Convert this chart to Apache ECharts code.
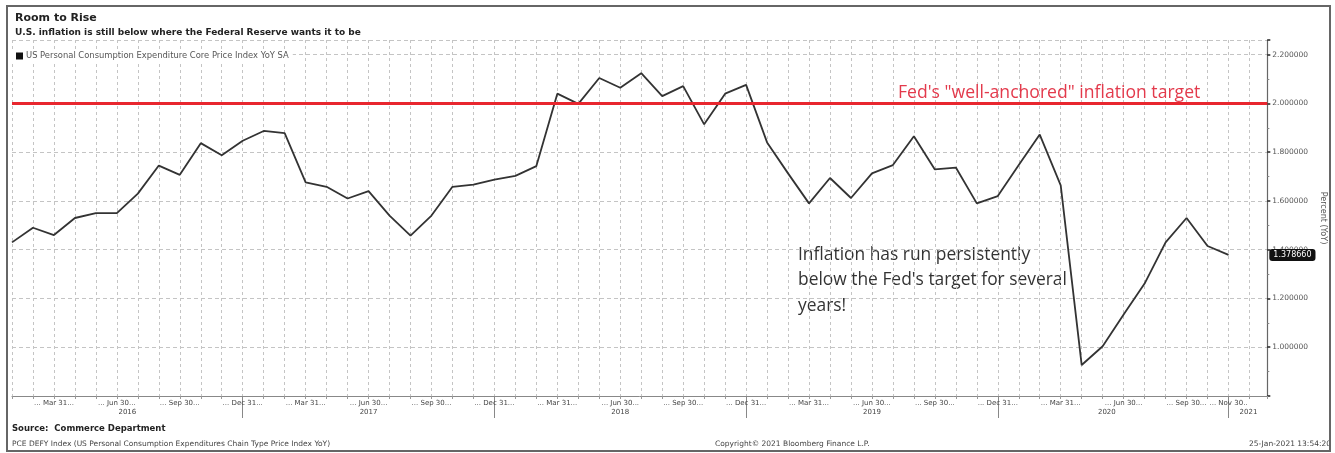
<!DOCTYPE html>
<html><head><meta charset="utf-8">
<script src="https://cdn.jsdelivr.net/npm/echarts@6/dist/echarts.min.js"></script>
<style>html,body{margin:0;padding:0;background:#fff}#c{width:1335px;height:453px}</style>
</head><body><div id="c"></div>
<script>
// Month-end labels used on the x axis
const monthLabels = ['Jan 31','Feb 29','Mar 31','Apr 30','May 31','Jun 30','Jul 31','Aug 31','Sep 30','Oct 31','Nov 30','Dec 31'];
// Core PCE YoY, monthly Jan 2016 .. Nov 2020 (index 0..58)
const pceCore = [
  1.43, 1.49, 1.46, 1.53, 1.55, 1.55, 1.63, 1.745, 1.707, 1.837, 1.787, 1.847,
  1.887, 1.878, 1.676, 1.658, 1.610, 1.640, 1.540, 1.458, 1.540, 1.658, 1.667, 1.687,
  1.703, 1.743, 2.040, 1.998, 2.104, 2.064, 2.124, 2.030, 2.071, 1.914, 2.040, 2.076,
  1.840, 1.713, 1.590, 1.694, 1.612, 1.713, 1.747, 1.865, 1.729, 1.737, 1.590, 1.620,
  1.747, 1.872, 1.664, 0.927, 1.004, 1.134, 1.261, 1.430, 1.530, 1.415, 1.378660
];
const lastValue = 1.378660;
const targetValue = 2.0;
// x-axis tick labels (month index) and year labels
const monthLabelIdx = [2,5,8,11,14,17,20,23,26,29,32,35,38,41,44,47,50,53,56,58];
const yearBreakIdx = [11,23,35,47,58];
const yearLabels = ['2016','2017','2018','2019','2020','2021'];
const yearLabelIdx = [5.5, 17, 29, 41, 52.2, 58.95];
// y ticks
const yMin = 0.8, yMax = 2.26, yStep = 0.2;

const seriesName = 'US Personal Consumption Expenditure Core Price Index YoY SA';
const SANS = 'DejaVu Sans';

const chart = echarts.init(document.getElementById('c'));
chart.setOption({
  animation: false,
  backgroundColor: '#fff',
  title: {
    text: 'Room to Rise',
    subtext: 'U.S. inflation is still below where the Federal Reserve wants it to be',
    left: 10, top: 8, itemGap: 4,
    textStyle: {fontFamily: SANS, fontSize: 11, fontWeight: 'bold', color: '#222'},
    subtextStyle: {fontFamily: SANS, fontSize: 9, fontWeight: 'bold', color: '#222'}
  },
  legend: {
    data: [seriesName], left: 12, top: 49, icon: 'rect', itemWidth: 7, itemHeight: 7,
    itemGap: 4, padding: [3, 4], backgroundColor: '#fff', selectedMode: false,
    textStyle: {fontFamily: SANS, fontSize: 8.4, color: '#555', padding: [0,0,0,-2]}
  },
  grid: {left: 12, right: 61, top: 40, bottom: 57, containLabel: false},
  xAxis: [{
    type: 'value', min: 0, max: 59.85, interval: 1, position: 'bottom',
    axisLine: {show: true, onZero: false, lineStyle: {color: '#888', width: 1}},
    axisTick: {show: true, length: 3, lineStyle: {color: '#999'}},
    axisLabel: {
      customValues: monthLabelIdx, margin: 4, fontFamily: SANS, fontSize: 7, color: '#444',
      formatter: v => '... ' + monthLabels[v % 12] + (v === 58 ? '..' : '...')
    },
    splitLine: {show: true, lineStyle: {color: '#c4c4c4', type: [3, 3], width: 1}}
  }, {
    type: 'value', min: 0, max: 59.85, position: 'bottom',
    axisLine: {show: false, onZero: false},
    axisTick: {show: true, customValues: yearBreakIdx, length: 22, lineStyle: {color: '#888'}},
    axisLabel: {
      customValues: yearLabelIdx, margin: 13, fontFamily: SANS, fontSize: 7, color: '#444',
      formatter: v => yearLabels[yearLabelIdx.indexOf(v)]
    },
    splitLine: {show: false}
  }],
  yAxis: {
    type: 'value', min: yMin, max: yMax, interval: yStep, position: 'right',
    name: 'Percent (YoY)', nameLocation: 'middle', nameRotate: -90, nameGap: 50,
    nameTextStyle: {fontFamily: SANS, fontSize: 8, color: '#555'},
    axisLine: {show: true, onZero: false, lineStyle: {color: '#666', width: 1.2}},
    axisTick: {show: true, length: 3, lineStyle: {color: '#222', width: 1.5}},
    minorTick: {show: true, splitNumber: 2, length: 2, lineStyle: {color: '#888'}},
    axisLabel: {
      showMinLabel: false, showMaxLabel: false, margin: 5,
      fontFamily: SANS, fontSize: 7.5, color: '#555',
      formatter: v => v.toFixed(6)
    },
    splitLine: {show: true, lineStyle: {color: '#c4c4c4', type: [4, 3], width: 1}},
    axisPointer: {
      show: true, type: 'line', value: lastValue, status: 'show', triggerTooltip: false,
      lineStyle: {opacity: 0},
      label: {
        show: true, formatter: p => Number(p.value).toFixed(6), backgroundColor: '#111',
        color: '#fff', fontFamily: SANS, fontSize: 8, padding: [2, 4], margin: 2
      }
    }
  },
  series: [{
    name: seriesName, type: 'line', xAxisIndex: 0,
    data: pceCore.map((v, i) => [i, v]),
    symbol: 'none', smooth: false,
    lineStyle: {color: '#333', width: 1.8},
    itemStyle: {color: '#111'},
    markLine: {
      silent: true, symbol: 'none',
      data: [{yAxis: targetValue}],
      lineStyle: {color: '#e8262e', width: 3, type: 'solid'},
      label: {
        show: true, position: 'insideEndTop', distance: [67, 1],
        formatter: 'Fed\'s "well-anchored" inflation target',
        fontFamily: 'Open Sans', fontSize: 17.6, color: '#e33a4c'
      }
    }
  }],
  graphic: [
    {type: 'text', left: 798, top: 242, silent: true,
     style: {text: "Inflation has run persistently\nbelow the Fed's target for several\nyears!",
             font: '17.4px "Open Sans"', fill: '#333', lineHeight: 25.5}},
    {type: 'text', left: 12, top: 424, silent: true,
     style: {text: 'Source:  Commerce Department', font: 'bold 8.5px "DejaVu Sans"', fill: '#222'}},
    {type: 'text', left: 12, top: 440, silent: true,
     style: {text: 'PCE DEFY Index (US Personal Consumption Expenditures Chain Type Price Index YoY)', font: '7.5px "DejaVu Sans"', fill: '#444'}},
    {type: 'text', left: 715, top: 440, silent: true,
     style: {text: 'Copyright\u00a9 2021 Bloomberg Finance L.P.', font: '7.5px "DejaVu Sans"', fill: '#444'}},
    {type: 'text', right: 4, top: 440, silent: true,
     style: {text: '25-Jan-2021 13:54:20', font: '7.5px "DejaVu Sans"', fill: '#444'}},
    {type: 'rect', silent: true, z: 100,
     shape: {x: 7, y: 6, width: 1323, height: 445},
     style: {fill: 'none', stroke: '#666', lineWidth: 2}}
  ]
});
</script></body></html>
